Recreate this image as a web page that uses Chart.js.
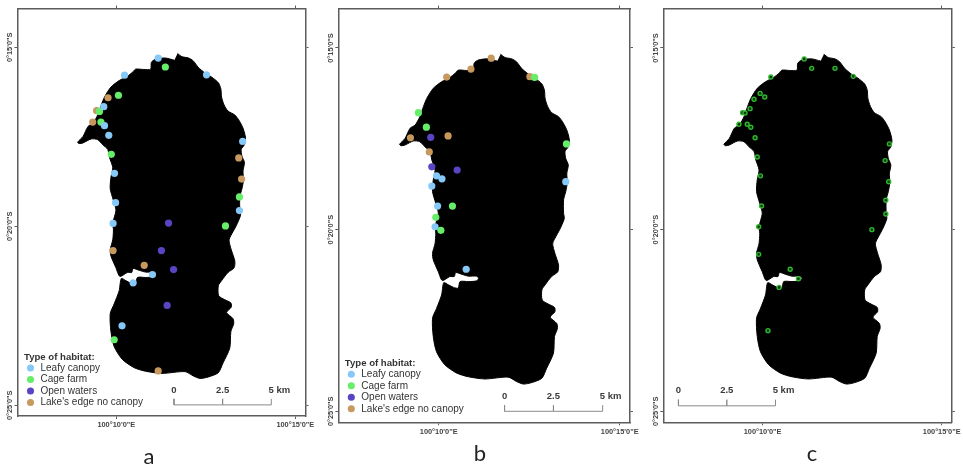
<!DOCTYPE html>
<html>
<head>
<meta charset="utf-8">
<title>Type of habitat</title>
<script src="https://cdn.jsdelivr.net/npm/chart.js@4/dist/chart.umd.min.js"></script>
<style>
    html, body { margin: 0; padding: 0; background: #fff; }
    body { position: relative; width: 963px; height: 469px; overflow: hidden; }
    canvas { position: absolute; top: 0; filter: blur(0.4px); }
    .panel-letter { position: absolute; font: 22px Lato, sans-serif; color: #222; line-height: 24px; transform: translateX(-50%); }
</style>
</head>
<body>
<canvas id="map-a" width="322" height="469" style="left:0"></canvas>
<canvas id="map-b" width="325" height="469" style="left:325px"></canvas>
<canvas id="map-c" width="313" height="469" style="left:650px"></canvas>
<div class="panel-letter" style="left:149px;top:444px">a</div>
<div class="panel-letter" style="left:480px;top:441px">b</div>
<div class="panel-letter" style="left:812px;top:441px">c</div>
<script>
// all positions are arc minutes: x = east of 100 deg, y = south of 0 deg
const lonTicks = [10, 15];
const lonTickLabels = ['100°10\'0"E', '100°15\'0"E'];
const latTicks = [15, 20, 25];
const latTickLabels = ['0°15\'0"S', '0°20\'0"S', '0°25\'0"S'];

const habitatNames = ['Leafy canopy', 'Cage farm', 'Open waters', "Lake's edge no canopy"];
const legendTitle = 'Type of habitat:';
const scaleBarLabels = ['0', '2.5', '5 km'];

const lakeOutline = [
    [11.71, 15.17], [11.83, 15.26], [12.02, 15.30], [12.15, 15.38], [12.29, 15.56], [12.48, 15.72],
    [12.66, 15.83], [12.85, 15.99], [12.92, 16.16], [12.94, 16.39], [13.01, 16.61], [13.12, 16.78],
    [13.31, 16.89], [13.42, 17.03], [13.54, 17.26], [13.61, 17.53], [13.58, 17.72], [13.49, 17.85],
    [13.51, 18.04], [13.58, 18.22], [13.54, 18.45], [13.55, 18.72], [13.51, 18.95], [13.45, 19.18],
    [13.45, 19.55], [13.47, 19.69], [13.38, 19.92], [13.31, 20.06], [13.26, 20.15], [13.15, 20.38],
    [13.21, 20.65], [13.31, 20.97], [13.29, 21.16], [13.12, 21.29], [12.94, 21.52], [12.85, 21.66],
    [12.86, 21.94], [13.03, 22.05], [13.20, 22.14], [13.21, 22.26], [13.08, 22.41], [13.26, 22.58],
    [13.28, 22.72], [13.20, 22.94], [13.17, 23.40], [12.98, 23.82], [12.85, 24.09], [12.57, 24.21],
    [12.34, 24.25], [12.15, 24.18], [11.92, 24.06], [11.28, 24.11], [10.82, 24.05], [10.50, 23.95],
    [10.17, 23.72], [9.94, 23.36], [9.85, 22.94], [9.83, 22.44], [9.94, 22.17], [10.08, 21.80],
    [10.14, 21.46], [10.27, 21.52], [10.41, 21.59], [10.54, 21.61], [10.59, 21.43], [10.82, 21.43],
    [11.05, 21.41], [11.10, 21.34], [11.05, 21.28], [10.82, 21.28], [10.64, 21.23], [10.47, 21.18],
    [10.43, 21.29], [10.31, 21.29], [10.10, 21.40], [9.99, 21.16], [9.85, 20.83], [9.83, 20.65],
    [9.90, 20.38], [9.92, 20.10], [9.90, 19.92], [9.99, 19.55], [9.92, 19.28], [9.83, 18.95],
    [9.85, 18.63], [9.90, 18.36], [9.81, 18.08], [9.76, 17.85], [9.62, 17.72], [9.48, 17.58],
    [9.30, 17.56], [9.07, 17.67], [8.96, 17.69], [8.92, 17.65], [9.07, 17.49], [9.21, 17.21],
    [9.35, 17.12], [9.48, 16.89], [9.58, 16.61], [9.67, 16.39], [9.85, 16.11], [10.08, 15.93],
    [10.31, 15.81], [10.45, 15.70], [10.54, 15.61], [10.77, 15.62], [10.96, 15.61], [10.98, 15.42],
    [11.10, 15.33], [11.37, 15.30], [11.62, 15.36]
];

const leafyA = [[11.17, 15.30], [10.23, 15.78], [12.52, 15.77], [9.65, 16.66], [9.67, 17.19], [9.79, 17.46], [9.95, 18.52],
    [9.98, 19.34], [9.91, 19.92], [13.53, 17.63], [13.44, 19.56], [11.01, 21.35], [10.47, 21.58], [10.16, 22.78]];
const cageA = [[11.37, 15.55], [10.06, 16.34], [9.53, 16.79], [9.57, 17.09], [9.86, 17.99], [13.44, 19.18], [13.05, 19.99], [9.94, 23.17]];
const openA = [[11.46, 19.91], [11.26, 20.68], [11.60, 21.21], [11.42, 22.21]];
const edgeA = [[9.77, 16.41], [9.45, 16.77], [9.34, 17.09], [13.42, 18.09], [13.50, 18.68], [9.91, 20.68], [10.78, 21.09], [11.17, 24.04]];

const leafyB = [[9.94, 18.52], [10.09, 18.60], [9.81, 18.80], [9.97, 19.35], [9.90, 19.92], [13.51, 18.68], [10.76, 21.09]];
const cageB = [[12.65, 15.81], [9.44, 16.78], [9.66, 17.18], [13.53, 17.64], [10.38, 19.35], [9.92, 19.66], [10.06, 20.02]];
const openB = [[9.78, 17.46], [9.81, 18.27], [10.51, 18.36]];
const edgeB = [[11.45, 15.28], [10.89, 15.58], [10.22, 15.80], [12.52, 15.79], [9.22, 17.47], [10.26, 17.42], [9.74, 17.86]];

const sitesC = [[11.16, 15.30], [11.37, 15.56], [12.02, 15.56], [12.53, 15.78], [10.23, 15.80], [9.93, 16.25], [10.06, 16.35],
    [9.76, 16.41], [9.65, 16.67], [9.44, 16.78], [9.51, 16.79], [9.34, 17.10], [9.57, 17.10], [9.67, 17.18], [9.79, 17.47],
    [13.54, 17.64], [9.85, 18.00], [13.42, 18.10], [9.94, 18.52], [13.52, 18.68], [13.44, 19.19], [9.97, 19.35], [13.44, 19.57],
    [9.89, 19.92], [13.05, 20.00], [9.89, 20.68], [10.77, 21.09], [11.00, 21.35], [10.46, 21.59], [10.15, 22.78]];

// scale bar: left tick, middle tick, right tick along one baseline
const barLonA = [11.61, 12.97, 14.33];
const barLonB = [11.82, 13.17, 14.53];
const barLonC = [7.65, 9.00, 10.36];
const barLatA = 24.99;
const barLatB = 25.00;
const barLatC = 24.85;

const habitatColors = ['#86c8f7', '#66ee6a', '#5a44c4', '#c8995f'];

function toPoints(pairs) {
    return pairs.map(p => ({ x: p[0], y: p[1] }));
}

function barPath(lons, lat) {
    const top = lat - 0.17;
    return toPoints([[lons[0], top], [lons[0], lat], [lons[1], lat], [lons[1], top], [lons[1], lat], [lons[2], lat], [lons[2], top]]);
}

// text of the scale bar, placed through the chart's own scales
const scaleBarText = {
    id: 'scaleBarText',
    afterDatasetsDraw(chart, args, opts) {
        const { ctx, scales } = chart;
        const y = scales.y.getPixelForValue(opts.lat) - 15;
        ctx.save();
        ctx.font = 'bold 9.5px "Liberation Sans", Arial, sans-serif';
        ctx.fillStyle = '#3a3a3a';
        ctx.textAlign = 'center';
        ctx.textBaseline = 'middle';
        scaleBarLabels.forEach((label, i) => {
            const shift = i === 2 ? 8 : 0;
            ctx.fillText(label, scales.x.getPixelForValue(opts.lons[i]) + shift, y);
        });
        ctx.restore();
    }
};

// puts the legend inside the frame, lower left
const legendPlacement = {
    id: 'legendPlacement',
    afterLayout(chart, args, opts) {
        if (!chart.legend || !chart.options.plugins.legend.display) return;
        chart.legend.left = chart.chartArea.left + opts.inset;
        chart.legend.bottom = chart.chartArea.bottom - opts.lift;
    }
};

function habitatDatasets(groups) {
    return groups.map((pairs, i) => ({
        label: habitatNames[i],
        data: toPoints(pairs),
        backgroundColor: habitatColors[i],
        borderWidth: 0,
        pointStyle: 'circle',
        pointRadius: 3.6
    }));
}

function drawMap(id, cfg) {
    const axisColor = '#5c5c5c';
    const fixed = (prop, size) => scale => { scale[prop] = size; };
    const tickFont = { family: '"Liberation Sans", Arial, sans-serif', size: 7.4, weight: 'bold' };
    const latAxis = (position, extra) => ({
        type: 'linear', position: position, reverse: true,
        min: cfg.latRange[0], max: cfg.latRange[1],
        border: { display: true, color: axisColor, width: 1.5 },
        grid: { drawOnChartArea: false, tickLength: 3, tickColor: axisColor, tickWidth: 1 },
        afterBuildTicks: scale => { scale.ticks = latTicks.map(v => ({ value: v })); },
        ...extra
    });
    const lonAxis = (position, extra) => ({
        type: 'linear', position: position,
        min: cfg.lonRange[0], max: cfg.lonRange[1],
        border: { display: true, color: axisColor, width: 1.5 },
        grid: { drawOnChartArea: false, tickLength: 3, tickColor: axisColor, tickWidth: 1 },
        afterBuildTicks: scale => { scale.ticks = lonTicks.map(v => ({ value: v })); },
        ...extra
    });

    return new Chart(document.getElementById(id), {
        type: 'scatter',
        data: {
            datasets: [
                ...cfg.points,
                {
                    label: 'Scale bar', type: 'line', data: barPath(cfg.barLons, cfg.barLat),
                    borderColor: '#8a8a8a', borderWidth: 1, pointRadius: 0, fill: false
                },
                {
                    label: 'Lake', type: 'line', data: toPoints(lakeOutline),
                    borderColor: '#000', borderWidth: 1, backgroundColor: '#000',
                    pointRadius: 0, fill: 'shape', tension: 0.25
                }
            ]
        },
        plugins: [scaleBarText, legendPlacement],
        options: {
            responsive: false,
            animation: false,
            layout: { autoPadding: false, padding: 0 },
            plugins: {
                tooltip: { enabled: false },
                scaleBarText: { lons: cfg.barLons, lat: cfg.barLat },
                legendPlacement: { inset: 6.5, lift: 7 },
                legend: {
                    display: cfg.showLegend,
                    position: 'chartArea',
                    align: 'end',
                    title: {
                        display: true, text: legendTitle, position: 'start', color: '#333',
                        font: { family: '"Liberation Sans", Arial, sans-serif', size: 9.6, weight: 'bold' },
                        padding: { top: 0, bottom: -2.5 }
                    },
                    labels: {
                        usePointStyle: true, boxHeight: 5, padding: 1.5, color: '#333',
                        font: { family: '"Liberation Sans", Arial, sans-serif', size: 10 },
                        filter: item => habitatNames.includes(item.text)
                    }
                }
            },
            scales: {
                x: lonAxis('bottom', {
                    afterFit: fixed('height', 469 - cfg.frame.bottom),
                    ticks: {
                        autoSkip: false, maxRotation: 0, padding: 2, color: '#444', font: tickFont,
                        callback: (v, i) => lonTickLabels[i]
                    }
                }),
                xTop: lonAxis('top', {
                    afterFit: fixed('height', cfg.frame.top),
                    ticks: { display: false }
                }),
                y: latAxis('left', {
                    afterFit: fixed('width', cfg.frame.left),
                    ticks: {
                        autoSkip: false, minRotation: 90, maxRotation: 90, crossAlign: 'center',
                        padding: -10.5, color: '#444', font: tickFont,
                        callback: (v, i) => latTickLabels[i]
                    }
                }),
                yRight: latAxis('right', {
                    afterFit: fixed('width', cfg.canvasWidth - cfg.frame.right),
                    ticks: { display: false }
                })
            }
        }
    });
}

drawMap('map-a', {
    canvasWidth: 322,
    frame: { left: 17.5, right: 305.5, top: 8.5, bottom: 416 },
    lonRange: [7.24, 15.285],
    latRange: [13.916, 25.3],
    barLons: barLonA, barLat: barLatA,
    showLegend: true,
    points: habitatDatasets([leafyA, cageA, openA, edgeA])
});

drawMap('map-b', {
    canvasWidth: 325,
    frame: { left: 13.3, right: 305, top: 8.5, bottom: 422.3 },
    lonRange: [7.227, 15.285],
    latRange: [13.913, 25.303],
    barLons: barLonB, barLat: barLatB,
    showLegend: true,
    points: habitatDatasets([leafyB, cageB, openB, edgeB])
});

drawMap('map-c', {
    canvasWidth: 313,
    frame: { left: 13.3, right: 305, top: 8.5, bottom: 422.3 },
    lonRange: [7.227, 15.285],
    latRange: [13.913, 25.303],
    barLons: barLonC, barLat: barLatC,
    showLegend: false,
    points: [{
        label: 'Sites',
        data: toPoints(sitesC),
        backgroundColor: '#0c3a0c',
        borderColor: '#2fb52f',
        borderWidth: 1.4,
        pointRadius: 2
    }]
});
</script>
</body>
</html>
